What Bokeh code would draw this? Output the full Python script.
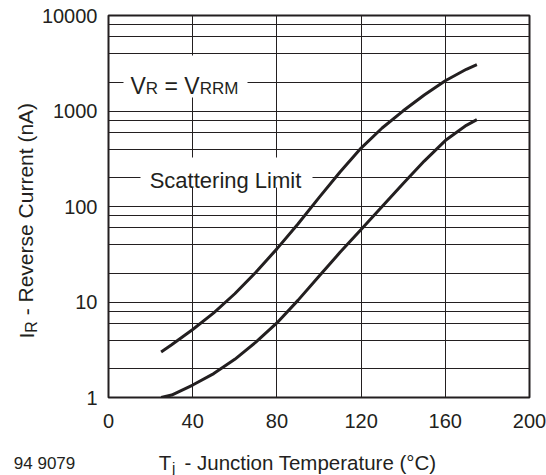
from bokeh.plotting import figure
from bokeh.models import Range1d, FixedTicker, BoxAnnotation
from bokeh.core.properties import value
from bokeh.embed import file_html
from bokeh.resources import INLINE

# ---- data ----
T = [25, 30, 40, 50, 60, 70, 80, 90, 100, 110, 120, 130, 140, 150, 160, 170, 175]
upper = [3.0, 3.56, 5.15, 7.7, 12.2, 20.5, 36, 65.6, 124, 230, 409, 664, 1005, 1469, 2075, 2735, 3055]
lower = [1.0, 1.06, 1.35, 1.78, 2.51, 3.8, 6.03, 10.4, 18.6, 33.1, 57.5, 100, 174, 299, 490, 708, 813]

x_ticks = [0, 40, 80, 120, 160, 200]
y_ticks = [1, 10, 100, 1000, 10000]
x_grid = [40, 80, 120, 160]
y_grid = [2, 4, 6, 8, 10, 20, 40, 60, 80, 100, 200, 400, 600, 800, 1000,
          2000, 4000, 6000, 8000]

INK = "#231f20"
FONT = "Liberation Sans"

W, H = 546, 475
FL, FR, FT, FB = 108, 529, 15, 397   # frame edges in pixels

p = figure(width=W, height=H, x_range=Range1d(0, 200), y_range=Range1d(1, 10000),
           y_axis_type="log", output_backend="svg", toolbar_location=None,
           min_border_left=FL, min_border_right=W - FR, min_border_top=FT,
           min_border_bottom=H - FB)
p.background_fill_color = "white"
p.border_fill_color = "white"
p.outline_line_color = INK
p.outline_line_width = 2

p.xaxis.ticker = FixedTicker(ticks=x_ticks)
p.yaxis.ticker = FixedTicker(ticks=y_ticks)
p.yaxis.major_label_overrides = {v: str(v) for v in y_ticks}
for ax in (p.xaxis, p.yaxis):
    ax.axis_line_color = None
    ax.major_tick_line_color = None
    ax.minor_tick_line_color = None
    ax.major_tick_out = 0
    ax.major_tick_in = 0
    ax.major_label_text_font = FONT
    ax.major_label_text_font_size = "20px"
    ax.major_label_text_color = INK
p.xaxis.major_label_standoff = 16
p.yaxis.major_label_standoff = 11

p.xgrid.ticker = FixedTicker(ticks=x_grid)
p.ygrid.ticker = FixedTicker(ticks=y_grid)
for g in (p.xgrid, p.ygrid):
    g.grid_line_color = INK
    g.grid_line_alpha = 1
    g.grid_line_width = 1

p.line(T, upper, line_width=3, color=INK)
p.line(T, lower, line_width=3, color=INK)


def to_data(px, py):
    """pixel position on the canvas -> data coordinates (for text placement)"""
    x = (px - FL) / (FR - FL) * 200
    y = 10 ** ((FB - py) / (FB - FT) * 4)
    return x, y


def box(x0, x1, y0, y1):
    l, t = to_data(x0, y0)
    r, b = to_data(x1, y1)
    p.add_layout(BoxAnnotation(left=l, right=r, bottom=b, top=t,
                               fill_color="white", fill_alpha=1, line_color=None))


def txt(px, py, s, size, angle=0, align="left"):
    x, y = to_data(px, py)
    p.text(x=[x], y=[y], text=[s], angle=angle, text_align=align,
           text_baseline="alphabetic", text_font=value(FONT),
           text_font_size=value(f"{size}px"), text_color=INK, level="overlay")


# white boxes behind the in-plot annotations
box(123, 247, 55, 97)
box(140, 312, 157, 187)

# V_R = V_RRM
txt(130, 85, "V", 23)
txt(145.3, 88, "R", 17)
txt(164.0, 85, "= V", 23)
txt(199.2, 88, "RRM", 17)

# Scattering Limit
txt(225, 180, "Scattering Limit", 22, align="center")

# y axis label (rotated)
txt(25.5, 338, "I", 21, angle=1.5708)
txt(30.5, 332.2, "R", 16, angle=1.5708)
txt(25.5, 314.8, "- Reverse Current (nA)", 21, angle=1.5708)

# x axis label
txt(158.3, 461.7, "T", 20.5)
txt(171.5, 466.8, "j", 15)
txt(184, 461.7, "- Junction Temperature (°C)", 20.5)

# figure number
txt(13.3, 463.3, "94 9079", 17)

open("out.html", "w").write(file_html(p, INLINE))
